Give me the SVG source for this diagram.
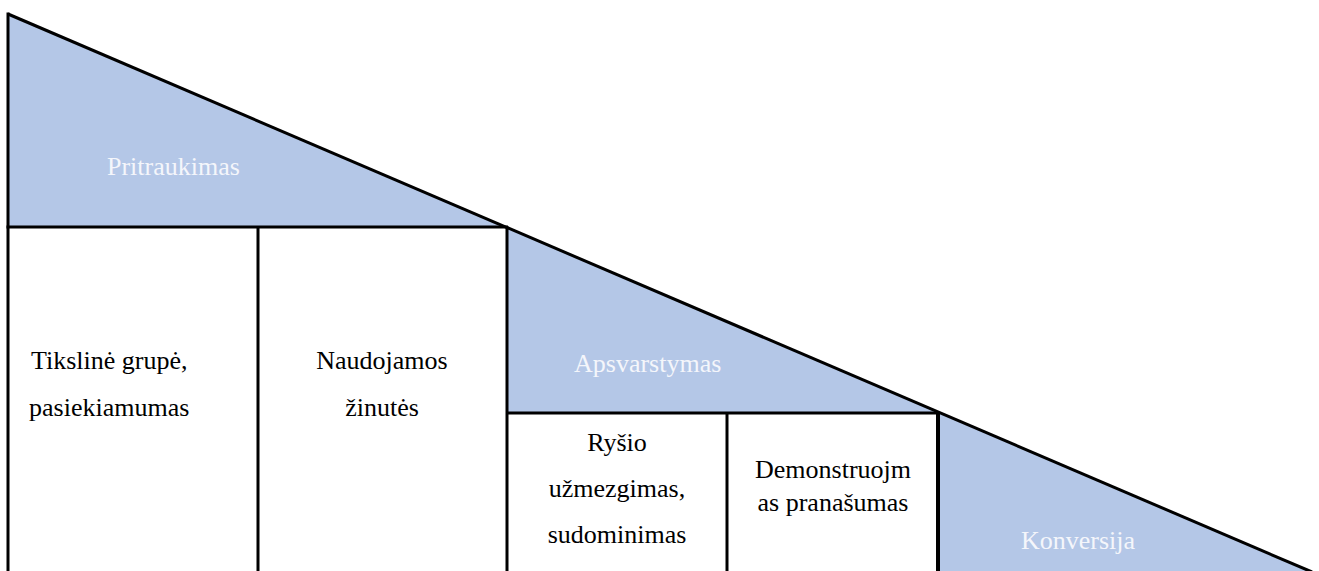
<svg xmlns="http://www.w3.org/2000/svg" width="1319" height="571" viewBox="0 0 1319 571" font-family="'Liberation Serif', 'Times New Roman', serif" font-size="26">
<style>
.tri{fill:#B4C7E7;stroke:none}
.ln{stroke:#000;stroke-width:3;fill:none;stroke-linecap:butt}
.tdark{font-family:'Liberation Serif','Times New Roman',serif;font-size:26px;fill:#000000}
.tlight{font-family:'Liberation Serif','Times New Roman',serif;font-size:26px;fill:#F4F6FB}
</style>
<rect width="1319" height="571" fill="#fff"/>
<g id="pritraukimas">
<polygon class="tri" points="8,14 507,227 8,227"/>
<text class="tlight" x="107" y="175">Pritraukimas</text>
</g>
<g id="apsvarstymas">
<polygon class="tri" points="507,227 937,412 507,412"/>
<text class="tlight" x="574" y="372">Apsvarstymas</text>
</g>
<g id="konversija">
<polygon class="tri" points="937,412 1310,571 937,571"/>
<text class="tlight" x="1021" y="549">Konversija</text>
</g>
<g id="tiksline-grupe" font-family="'Liberation Serif', serif">
<text class="tdark" x="31" y="369">Tikslinė grupė,</text>
<text class="tdark" x="29" y="416">pasiekiamumas</text>
</g>
<g id="naudojamos-zinutes" font-family="'Liberation Serif', serif">
<text class="tdark" x="382" y="369" text-anchor="middle">Naudojamos</text>
<text class="tdark" x="382" y="416" text-anchor="middle">žinutės</text>
</g>
<g id="rysio-uzmezgimas" font-family="'Liberation Serif', serif">
<text class="tdark" x="617" y="451" text-anchor="middle">Ryšio</text>
<text class="tdark" x="617" y="497" text-anchor="middle">užmezgimas,</text>
<text class="tdark" x="617" y="543" text-anchor="middle">sudominimas</text>
</g>
<g id="demonstruojamas-pranasumas" font-family="'Liberation Serif', serif">
<text class="tdark" x="833" y="478" text-anchor="middle">Demonstruojm</text>
<text class="tdark" x="833" y="511" text-anchor="middle">as pranašumas</text>
</g>
<g id="connectors">
<line class="ln" x1="8" y1="14" x2="1312" y2="572"/>
<line class="ln" x1="8" y1="12.5" x2="8" y2="571"/>
<line class="ln" x1="6.5" y1="227" x2="508" y2="227"/>
<line class="ln" x1="258" y1="227" x2="258" y2="571"/>
<line class="ln" x1="507" y1="226" x2="507" y2="571"/>
<line class="ln" x1="506" y1="413" x2="938" y2="413"/>
<line class="ln" x1="727" y1="413" x2="727" y2="571"/>
<line class="ln" style="stroke-width:4" x1="938" y1="412" x2="938" y2="571"/>
</g>
</svg>
